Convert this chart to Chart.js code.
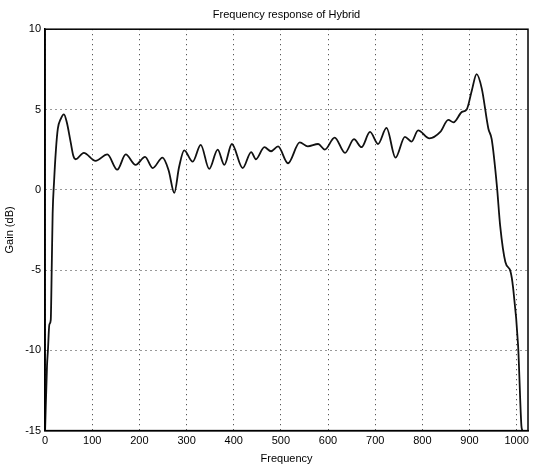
<!DOCTYPE html>
<html>
<head>
<meta charset="utf-8">
<script src="https://cdn.jsdelivr.net/npm/chart.js@4/dist/chart.umd.min.js"></script>
<style>
  html, body { margin: 0; padding: 0; background: #fff; }
  #wrap { width: 536px; height: 467px; }
</style>
</head>
<body>
<div id="wrap"><canvas id="chartCanvas"></canvas></div>
<script>
"use strict";

const freq = [0, 4, 6, 9, 12, 14, 16, 19, 23, 27, 33, 40, 46, 54, 60, 65,
  82, 107, 132, 153, 171, 192, 212, 228, 249, 262, 274, 284, 295, 313, 330,
  348, 366, 380, 396, 419, 437, 447, 465, 479, 494, 515, 540, 557, 579, 593,
  614, 636, 655, 671, 689, 706, 724, 743, 763, 777, 791, 815, 838, 855, 866,
  884, 894, 905, 915, 926, 940, 947, 958, 965, 976, 987, 992, 1003, 1010, 1012];
const gain = [-15, -11, -10, -8.4, -8.1, -5, -1.5, 0.5, 2.5, 3.8, 4.4, 4.7, 4.2, 3.0, 2.1, 1.9,
  2.3, 1.8, 2.2, 1.25, 2.2, 1.55, 2.05, 1.35, 2.0, 1.2, -0.2, 1.4, 2.45, 1.75, 2.8,
  1.3, 2.5, 1.55, 2.85, 1.35, 2.35, 1.9, 2.65, 2.4, 2.7, 1.65, 2.95, 2.7, 2.85, 2.5,
  3.25, 2.3, 3.15, 2.65, 3.6, 2.85, 3.85, 2.0, 3.3, 3.0, 3.7, 3.2, 3.6, 4.35, 4.2,
  4.85, 5.0, 6.2, 7.2, 6.3, 3.8, 3.15, 0.25, -2.25, -4.5, -5.1, -6.0, -9.7, -14.7, -15];

const xTicks = [0, 100, 200, 300, 400, 500, 600, 700, 800, 900, 1000];
const yTicks = [-15, -10, -5, 0, 5, 10];

const tickFont = { family: "'Liberation Sans', Arial, sans-serif", size: 11 };

// box round the axes, like matlab's
const boxPlugin = {
  id: "box",
  afterDatasetsDraw(chart) {
    const { ctx, chartArea: a } = chart;
    ctx.save();
    ctx.strokeStyle = "#000";
    ctx.lineWidth = 1.5;
    ctx.strokeRect(a.left, a.top, a.right - a.left, a.bottom - a.top);
    ctx.restore();
  },
};

const points = freq.map((f, i) => ({ x: f, y: gain[i] }));

new Chart(document.getElementById("chartCanvas").getContext("2d"), {
  type: "line",
  data: {
    datasets: [
      {
        data: points,
        borderColor: "#111",
        borderWidth: 1.8,
        pointRadius: 0,
        fill: false,
        cubicInterpolationMode: "monotone",
      },
    ],
  },
  options: {
    responsive: true,
    maintainAspectRatio: false,
    animation: false,
    layout: { padding: { left: 3, right: 8, top: 0, bottom: 1 } },
    plugins: {
      legend: { display: false },
      tooltip: { enabled: false },
      title: {
        display: true,
        text: "Frequency response of Hybrid",
        color: "#000",
        fullSize: false,
        font: { family: "'Liberation Sans', Arial, sans-serif", size: 11, weight: "normal" },
        padding: { top: 8, bottom: 8 },
      },
    },
    scales: {
      x: {
        type: "linear",
        min: 0,
        max: 1024,
        afterBuildTicks: (axis) => {
          axis.ticks = xTicks.map((v) => ({ value: v }));
        },
        ticks: { color: "#000", font: tickFont, padding: 4, maxRotation: 0, callback: (v) => String(v) },
        grid: { color: "#333", lineWidth: 1, drawTicks: false },
        border: { display: true, color: "#000", width: 1.5, dash: [1, 4] },
        title: {
          display: true,
          text: "Frequency",
          color: "#000",
          font: tickFont,
          padding: { top: 1, bottom: 0 },
        },
      },
      y: {
        type: "linear",
        min: -15,
        max: 10,
        afterBuildTicks: (axis) => {
          axis.ticks = yTicks.map((v) => ({ value: v }));
        },
        ticks: { color: "#000", font: tickFont, padding: 4 },
        grid: { color: "#333", lineWidth: 1, drawTicks: false },
        border: { display: true, color: "#000", width: 1.5, dash: [1, 4] },
        title: {
          display: true,
          text: "Gain (dB)",
          color: "#000",
          font: tickFont,
          padding: { top: 0, bottom: 5 },
        },
      },
    },
  },
  plugins: [boxPlugin],
});
</script>
</body>
</html>
